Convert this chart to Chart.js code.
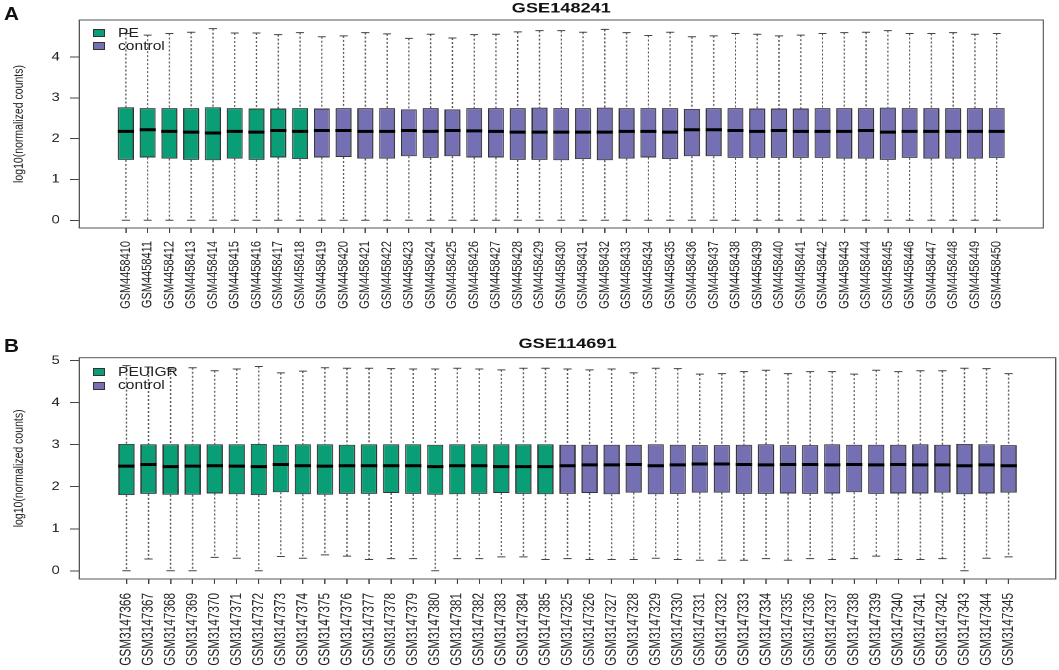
<!DOCTYPE html>
<html lang="en">
<head>
<meta charset="UTF-8">
<title>GSE148241 / GSE114691 count boxplots</title>
<script src="https://cdn.jsdelivr.net/npm/chart.js@4.4.1/dist/chart.umd.min.js"></script>
<style>
  body { margin: 0; background: #fff; font-family: "Liberation Sans", Arial, sans-serif; }
  #wrap { position: relative; width: 1059px; height: 670px; overflow: hidden; }
  canvas { position: absolute; left: 0; }
  .panel-letter { position: absolute; left: 4px; font-weight: bold; font-size: 18px; line-height: 18px;
                  transform: scaleX(1.15); transform-origin: left top; color: #111; }
  .key { position: absolute; left: 93px; width: 12px; height: 8px; box-sizing: border-box; border: 1px solid #333; }
  .key-text { position: absolute; left: 118px; font-size: 12px; line-height: 12px; color: #222;
              transform: scaleX(1.3); transform-origin: left top; white-space: nowrap; }
</style>
</head>
<body>
<div id="wrap">
  <canvas id="chartA" width="815" height="330" style="top:0;width:1059px;height:330px"></canvas>
  <canvas id="chartB" width="815" height="340" style="top:330px;width:1059px;height:340px"></canvas>

  <div class="panel-letter" style="top:5px">A</div>
  <div class="panel-letter" style="top:337px">B</div>

  <div class="key" style="top:29px;background:#0a9e77"></div>
  <div class="key-text" style="top:27.4px">PE</div>
  <div class="key" style="top:42px;background:#7570b3"></div>
  <div class="key-text" style="top:40.4px">control</div>

  <div class="key" style="top:368px;background:#0a9e77"></div>
  <div class="key-text" style="top:365.8px">PEUIGR</div>
  <div class="key" style="top:381.5px;background:#7570b3"></div>
  <div class="key-text" style="top:379.1px">control</div>
</div>

<script>
// ---- panel A : GSE148241 ----
const samplesA = ['GSM4458410','GSM4458411','GSM4458412','GSM4458413','GSM4458414','GSM4458415','GSM4458416',
  'GSM4458417','GSM4458418','GSM4458419','GSM4458420','GSM4458421','GSM4458422','GSM4458423','GSM4458424',
  'GSM4458425','GSM4458426','GSM4458427','GSM4458428','GSM4458429','GSM4458430','GSM4458431','GSM4458432',
  'GSM4458433','GSM4458434','GSM4458435','GSM4458436','GSM4458437','GSM4458438','GSM4458439','GSM4458440',
  'GSM4458441','GSM4458442','GSM4458443','GSM4458444','GSM4458445','GSM4458446','GSM4458447','GSM4458448',
  'GSM4458449','GSM4458450'];
const groupsA = ['PE', 'control'];
const nCaseA = 9;
const maxA = [4.58,4.54,4.58,4.61,4.70,4.59,4.59,4.55,4.60,4.50,4.52,4.60,4.57,4.46,4.56,4.47,4.55,4.56,4.62,4.65,4.65,
  4.61,4.68,4.60,4.53,4.61,4.50,4.52,4.58,4.56,4.52,4.54,4.58,4.60,4.61,4.65,4.58,4.58,4.60,4.56,4.58];
const q3A = [2.77,2.75,2.75,2.75,2.77,2.75,2.74,2.74,2.75,2.74,2.75,2.75,2.75,2.72,2.75,2.72,2.75,2.75,2.75,2.76,2.75,
  2.75,2.76,2.75,2.75,2.75,2.73,2.75,2.75,2.74,2.74,2.74,2.75,2.75,2.75,2.76,2.75,2.75,2.75,2.75,2.75];
const medA = [2.18,2.22,2.18,2.16,2.14,2.18,2.16,2.20,2.18,2.20,2.20,2.18,2.18,2.20,2.18,2.20,2.19,2.18,2.16,2.16,2.16,
  2.16,2.16,2.18,2.18,2.16,2.22,2.22,2.20,2.18,2.20,2.18,2.18,2.18,2.20,2.16,2.18,2.18,2.18,2.18,2.18];
const q1A = [1.48,1.54,1.51,1.48,1.47,1.51,1.48,1.54,1.50,1.54,1.55,1.51,1.51,1.57,1.53,1.57,1.54,1.54,1.48,1.48,1.47,
  1.50,1.47,1.51,1.54,1.50,1.57,1.57,1.53,1.53,1.53,1.53,1.53,1.51,1.51,1.48,1.53,1.51,1.51,1.51,1.53];
const minA = [0,0,0,0,0,0,0,0,0,0,0,0,0,0,0,0,0,0,0,0,0,0,0,0,0,0,0,0,0,0,0,0,0,0,0,0,0,0,0,0,0];
const yTicksA = [0, 1, 2, 3, 4];

// ---- panel B : GSE114691 ----
const samplesB = ['GSM3147366','GSM3147367','GSM3147368','GSM3147369','GSM3147370','GSM3147371','GSM3147372',
  'GSM3147373','GSM3147374','GSM3147375','GSM3147376','GSM3147377','GSM3147378','GSM3147379','GSM3147380',
  'GSM3147381','GSM3147382','GSM3147383','GSM3147384','GSM3147385','GSM3147325','GSM3147326','GSM3147327',
  'GSM3147328','GSM3147329','GSM3147330','GSM3147331','GSM3147332','GSM3147333','GSM3147334','GSM3147335',
  'GSM3147336','GSM3147337','GSM3147338','GSM3147339','GSM3147340','GSM3147341','GSM3147342','GSM3147343',
  'GSM3147344','GSM3147345'];
const groupsB = ['PEUIGR', 'control'];
const nCaseB = 20;
const maxB = [4.88,4.85,4.80,4.83,4.76,4.80,4.86,4.71,4.75,4.83,4.82,4.82,4.81,4.80,4.80,4.82,4.80,4.78,4.82,4.82,
  4.80,4.78,4.80,4.71,4.82,4.81,4.68,4.69,4.74,4.77,4.69,4.74,4.74,4.68,4.77,4.74,4.76,4.76,4.82,4.81,4.69];
const q3B = [3.02,3.01,3.01,3.01,3.01,3.01,3.02,3.00,3.01,3.01,3.00,3.01,3.01,3.01,3.00,3.01,3.01,3.01,3.01,3.01,
  3.00,3.00,3.00,3.00,3.01,3.00,2.99,2.99,3.00,3.01,2.99,2.99,3.01,3.00,3.00,3.00,3.01,3.00,3.02,3.01,2.99];
const medB = [2.49,2.53,2.48,2.49,2.50,2.49,2.48,2.53,2.50,2.49,2.50,2.50,2.50,2.50,2.48,2.50,2.50,2.48,2.48,2.48,
  2.50,2.52,2.52,2.53,2.50,2.52,2.54,2.54,2.53,2.52,2.53,2.53,2.52,2.53,2.52,2.53,2.52,2.52,2.50,2.52,2.50];
const q1B = [1.80,1.83,1.81,1.81,1.84,1.82,1.80,1.87,1.82,1.81,1.83,1.83,1.85,1.83,1.81,1.82,1.83,1.85,1.83,1.82,
  1.83,1.85,1.82,1.86,1.82,1.83,1.86,1.86,1.83,1.83,1.84,1.83,1.84,1.87,1.83,1.84,1.84,1.86,1.82,1.84,1.86];
const minB = [0,0.28,0,0,0.32,0.30,0,0.34,0.30,0.38,0.35,0.27,0.29,0.29,0,0.29,0.29,0.33,0.33,0.27,
  0.29,0.27,0.27,0.27,0.30,0.27,0.25,0.25,0.25,0.29,0.25,0.29,0.27,0.29,0.35,0.27,0.27,0.29,0,0.30,0.33];
const yTicksB = [0, 1, 2, 3, 4, 5];

const caseColor = '#0a9e77';
const ctrlColor = '#7570b3';
const boxFrac = 0.74;   // box width as share of the spacing between samples

Chart.defaults.font.family = '"Liberation Sans", Arial, sans-serif';

// plot frame like R's box()
const framePlugin = {
  id: 'frame',
  afterDatasetsDraw(chart) {
    const { ctx, chartArea: a } = chart;
    ctx.save();
    ctx.strokeStyle = '#555';
    ctx.lineWidth = 1;
    ctx.strokeRect(a.left, a.top, a.right - a.left, a.bottom - a.top);
    ctx.restore();
  }
};

function unitPx(c) {
  const sx = c.chart.scales.x;
  return sx.getPixelForValue(1) - sx.getPixelForValue(0);
}

function makePanel(id, p) {
  const n = p.samples.length;
  const xs = p.samples.map((s, i) => i + 1);
  const boxes = (from, to) => xs.slice(from, to).map(x => ({ x: x, y: [p.q1[x - 1], p.q3[x - 1]] }));
  const whiskers = [];
  const caps = [];
  xs.forEach((x, i) => {
    whiskers.push({ x: x, y: p.max[i] }, { x: x, y: p.q3[i] }, { x: x, y: null },
                  { x: x, y: p.q1[i] }, { x: x, y: p.min[i] }, { x: x, y: null });
    caps.push({ x: x, y: p.max[i] }, { x: x, y: p.min[i] });
  });
  const meds = xs.map((x, i) => ({ x: x, y: p.med[i] }));

  return new Chart(document.getElementById(id), {
    type: 'bar',
    data: {
      datasets: [
        { type: 'line', label: 'median', data: meds, showLine: false, pointStyle: 'line',
          pointRadius: c => unitPx(c) * boxFrac / 2, pointBorderWidth: 3, pointBorderColor: '#000', order: 0 },
        { label: p.groups[0], data: boxes(0, p.nCase), backgroundColor: caseColor, borderColor: '#333',
          borderWidth: 1, borderSkipped: false, grouped: false, barPercentage: 0.82, categoryPercentage: 0.9, order: 1 },
        { label: p.groups[1], data: boxes(p.nCase, n), backgroundColor: ctrlColor, borderColor: '#333',
          borderWidth: 1, borderSkipped: false, grouped: false, barPercentage: 0.82, categoryPercentage: 0.9, order: 1 },
        { type: 'line', label: 'staple', data: caps, showLine: false, pointStyle: 'line',
          pointRadius: c => unitPx(c) * boxFrac / 4, pointBorderWidth: 1, pointBorderColor: '#444', order: 2 },
        { type: 'line', label: 'whisker', data: whiskers, borderColor: '#555', borderWidth: 1,
          borderDash: [2, 2], pointRadius: 0, spanGaps: false, order: 3 }
      ]
    },
    options: {
      responsive: false,
      devicePixelRatio: 2,
      animation: false,
      events: [],
      layout: { padding: { left: 0, right: p.padRight, top: 0, bottom: 0 } },
      plugins: {
        legend: { display: false },
        tooltip: { enabled: false },
        title: { display: true, text: p.title, fullSize: false, color: '#111',
                 font: { size: 14, weight: 'bold' }, padding: { top: p.titleTop, bottom: p.titleBottom } }
      },
      scales: {
        x: {
          type: 'linear', min: 0.5 - 0.04 * n, max: n + 0.5 + 0.04 * n, offset: false,
          grid: { drawOnChartArea: false, tickLength: 5, color: '#444', offset: false },
          border: { display: false },
          afterBuildTicks: s => { s.ticks = xs.map(v => ({ value: v })); },
          afterFit: s => { s.height = p.xAxisHeight; },
          ticks: { autoSkip: false, minRotation: 90, maxRotation: 90, padding: p.labelPad, color: '#222',
                   font: { size: p.labelSize }, callback: (v, i) => p.samples[i] }
        },
        y: {
          min: p.yMin, max: p.yMax,
          grid: { drawOnChartArea: false, tickLength: 7, color: '#444' },
          border: { display: false },
          afterBuildTicks: s => { s.ticks = p.yTicks.map(v => ({ value: v })); },
          afterFit: s => { s.width = 61; },
          ticks: { padding: 8, color: '#222', font: { size: 11.5 } },
          title: { display: true, text: 'log10(normalized counts)', color: '#222',
                   font: { size: 10.5 }, padding: { top: 8.3, bottom: 0 } }
        }
      }
    },
    plugins: [framePlugin]
  });
}

makePanel('chartA', {
  title: 'GSE148241', samples: samplesA, groups: groupsA, nCase: nCaseA,
  max: maxA, q3: q3A, med: medA, q1: q1A, min: minA, yTicks: yTicksA,
  yMin: -0.19, yMax: 4.91, padRight: 12.1, titleTop: 0, titleBottom: 3.2, xAxisHeight: 102,
  labelSize: 11, labelPad: 8
});

makePanel('chartB', {
  title: 'GSE114691', samples: samplesB, groups: groupsB, nCase: nCaseB,
  max: maxB, q3: q3B, med: medB, q1: q1B, min: minB, yTicks: yTicksB,
  yMin: -0.195, yMax: 5.07, padRight: 2.5, titleTop: 5.6, titleBottom: 5.3, xAxisHeight: 91,
  labelSize: 11.8, labelPad: 9
});
</script>
</body>
</html>
